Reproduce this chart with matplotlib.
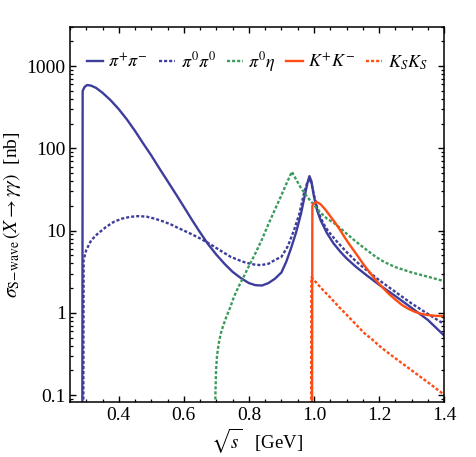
import matplotlib
matplotlib.use('Agg')
import matplotlib.pyplot as plt
from matplotlib.ticker import MultipleLocator, LogLocator, FixedLocator, NullFormatter

plt.rcParams['font.family'] = 'Liberation Serif'
plt.rcParams['mathtext.fontset'] = 'stix'

# pi+ pi- (solid blue)
x_pipi = [0.288, 0.289, 0.295, 0.303, 0.315, 0.33, 0.35, 0.375, 0.40, 0.425, 0.45, 0.475,
          0.50, 0.525, 0.55, 0.575, 0.60, 0.625, 0.65, 0.675, 0.70, 0.725, 0.75, 0.775,
          0.80, 0.82, 0.84, 0.86, 0.88, 0.90, 0.915, 0.93, 0.945, 0.96, 0.972, 0.98,
          0.986, 0.992, 1.0, 1.01, 1.02, 1.04, 1.06, 1.08, 1.10, 1.13, 1.16, 1.20,
          1.25, 1.30, 1.35, 1.40]
y_pipi = [0.05, 500, 560, 590, 580, 545, 475, 385, 300, 225, 163, 115,
          82, 57, 40, 28, 19.5, 13.5, 9.5, 6.8, 5.1, 3.95, 3.15, 2.65,
          2.3, 2.17, 2.15, 2.3, 2.6, 3.1, 4.2, 6.2, 9.5, 16, 27, 38,
          46, 40, 26, 17.5, 13.5, 9.3, 7.0, 5.6, 4.6, 3.6, 2.9, 2.2,
          1.6, 1.15, 0.82, 0.53]

# pi0 pi0 (dotted blue)
x_pi0pi0 = [0.291, 0.292, 0.30, 0.315, 0.333, 0.36, 0.385, 0.41, 0.435, 0.46, 0.485, 0.51,
            0.535, 0.56, 0.58, 0.62, 0.651, 0.682, 0.71, 0.744, 0.78, 0.81, 0.836, 0.86,
            0.88, 0.90, 0.92, 0.94, 0.955, 0.968, 0.978, 0.986, 0.992, 1.0, 1.01, 1.02,
            1.035, 1.05, 1.07, 1.10, 1.13, 1.16, 1.20, 1.25, 1.30, 1.35, 1.40]
y_pi0pi0 = [0.05, 4.4, 5.8, 7.6, 9.0, 11.0, 12.8, 14.0, 14.7, 15.0, 14.8, 14.0,
            13.0, 11.9, 10.9, 9.2, 8.0, 6.8, 5.8, 4.8, 4.2, 3.9, 3.8, 3.95,
            4.4, 4.8, 6.5, 10.5, 16, 27, 37, 43, 38, 27, 19, 14.5,
            11, 9.2, 7.4, 5.5, 4.2, 3.35, 2.5, 1.8, 1.3, 0.97, 0.73]

# pi0 eta (dotted green)
x_pi0eta = [0.696, 0.697, 0.699, 0.702, 0.707, 0.713, 0.72, 0.73, 0.742, 0.755, 0.77, 0.785,
            0.80, 0.82, 0.84, 0.86, 0.88, 0.90, 0.915, 0.932, 0.945, 0.96, 0.98, 1.0,
            1.02, 1.04, 1.06, 1.08, 1.10, 1.13, 1.16, 1.19, 1.216, 1.25, 1.30, 1.35, 1.40]
y_pi0eta = [0.05, 0.1, 0.2, 0.3, 0.42, 0.55, 0.68, 0.88, 1.15, 1.6, 2.15, 2.8,
            3.7, 5.3, 7.8, 12, 18, 27, 37, 52, 42, 33, 25.5, 20.5,
            16.5, 14, 12.5, 10.8, 9.2, 7.3, 5.9, 4.8, 4.15, 3.6, 3.1, 2.75, 2.43]

# K+ K- (solid orange)
x_kk = [0.994, 0.995, 1.0, 1.008, 1.02, 1.035, 1.05, 1.065, 1.08, 1.095, 1.11, 1.13,
        1.15, 1.17, 1.19, 1.21, 1.23, 1.25, 1.27, 1.29, 1.31, 1.33, 1.35, 1.375, 1.40]
y_kk = [0.05, 20, 21.6, 22.3, 21, 18, 15, 12.5, 10.2, 8.2, 6.7, 5.2,
        4.0, 3.15, 2.5, 2.05, 1.7, 1.45, 1.25, 1.12, 1.03, 0.97, 0.94, 0.92, 0.91]

# K_S K_S (dotted orange)
x_ksks = [0.991, 0.992, 1.0, 1.015, 1.03, 1.051, 1.075, 1.1, 1.125, 1.154, 1.18, 1.21,
          1.24, 1.27, 1.30, 1.35, 1.40]
y_ksks = [0.05, 2.7, 2.5, 2.15, 1.85, 1.52, 1.2, 0.95, 0.75, 0.57, 0.47, 0.37,
          0.3, 0.245, 0.2, 0.143, 0.101]

labels = [r'$\pi^{+}\pi^{-}$', r'$\pi^{0}\pi^{0}$', r'$\pi^{0}\eta$', r'$K^{+}K^{-}$', r'$K_{S}K_{S}$']

blue = '#3d3d9c'
green = '#3b9b5b'
orange = '#ff4b14'
dots = (1.3, 0.85)

fig = plt.figure(figsize=(4.76, 4.57), dpi=100)
ax = fig.add_axes([0.147, 0.121, 0.786, 0.820])

ax.plot(x_pipi, y_pipi, color=blue, lw=1.7, label=labels[0])
ax.plot(x_pi0pi0, y_pi0pi0, color=blue, lw=1.7, dashes=dots, label=labels[1])
ax.plot(x_pi0eta, y_pi0eta, color=green, lw=1.7, dashes=dots, label=labels[2])
ax.plot(x_kk, y_kk, color=orange, lw=1.7, label=labels[3])
ax.plot(x_ksks, y_ksks, color=orange, lw=1.7, dashes=dots, label=labels[4])

ax.set_yscale('log')
ax.set_xlim(0.25, 1.4)
ax.set_ylim(0.083, 3000)

ax.xaxis.set_minor_locator(MultipleLocator(0.05))
ax.set_xticks([0.4, 0.6, 0.8, 1.0, 1.2, 1.4])
ax.set_xticklabels(['0.4', '0.6', '0.8', '1.0', '1.2', '1.4'])
ax.yaxis.set_major_locator(FixedLocator([0.1, 1, 10, 100, 1000]))
ax.yaxis.set_minor_locator(LogLocator(base=10, subs=range(2, 10), numticks=20))
ax.yaxis.set_minor_formatter(NullFormatter())
ax.set_yticklabels(['0.1', '1', '10', '100', '1000'])

ax.tick_params(which='both', direction='in', top=True, right=True, labelsize=14)
ax.tick_params(which='major', length=4, width=1.0)
ax.tick_params(which='minor', length=2.2, width=0.9)
ax.tick_params(axis='x', pad=4)
ax.tick_params(axis='y', pad=3)
for sp in ax.spines.values():
    sp.set_linewidth(1.1)

ax.set_xlabel(r'$\sqrt{s}$   [GeV]', fontsize=13.5, labelpad=1)
ax.set_ylabel(r'$\sigma_{\mathrm{S\!-\!wave}}\,(X\rightarrow\gamma\gamma)$  [nb]', fontsize=14, labelpad=3)

ax.legend(loc='center', bbox_to_anchor=(0.5, 0.907), ncol=5, frameon=False, fontsize=13,
          handlelength=0.9, handletextpad=0.3, columnspacing=0.6, borderaxespad=0)

fig.savefig('out.png', dpi=100)
